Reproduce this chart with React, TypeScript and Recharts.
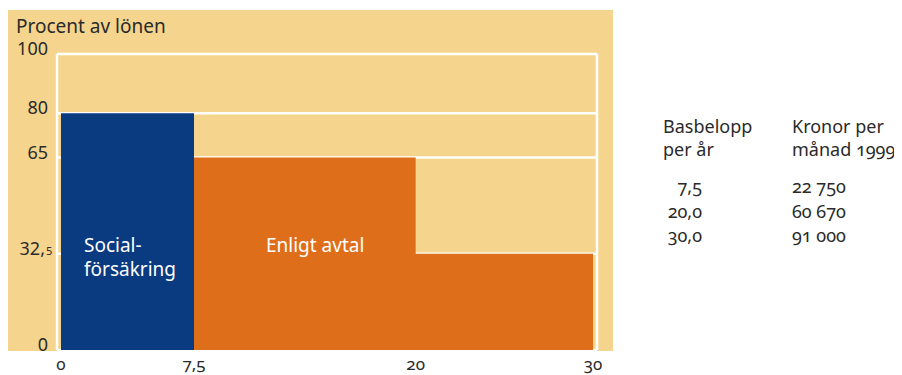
import React from "react";
import { Area, CartesianGrid, ComposedChart, XAxis, YAxis } from "recharts";

// Ersättningsnivåer i procent av lönen, per basbeloppsintervall
const breakpoints = [0, 7.5, 20, 30];
const socialLevel = [80, 80, null, null];
const avtalLevel = [null, 65, 32.5, 32.5];

const yTicks = [0, 32.5, 65, 80, 100];
const yTickLabels = ["0", "32,5", "65", "80", "100"];
const xTicks = [0, 7.5, 20, 30];
const xTickLabels = ["0", "7,5", "20", "30"];

const basbelopp = ["7,5", "20,0", "30,0"];
const kronor = ["22 750", "60 670", "91 000"];

const BEIGE = "#F5D48D";
const BLUE = "#0A3A7F";
const ORANGE = "#DF6E1B";
const TEXT = "#2a2a2a";
const FONT = "'Noto Sans', sans-serif";

const data = breakpoints.map((x, i) => ({
  x,
  social: socialLevel[i],
  avtal: avtalLevel[i],
}));

const YTick = (props: any) => {
  const { x, y, payload } = props;
  const label = yTickLabels[yTicks.indexOf(payload.value)] ?? String(payload.value);
  const comma = label.indexOf(",");
  if (comma < 0) {
    return (
      <text x={x - 1} y={y + 1} textAnchor="end" fontSize={18} fill={TEXT} fontFamily={FONT}>
        {label}
      </text>
    );
  }
  return (
    <g>
      <text x={x - 4} y={y + 1} textAnchor="end" fontSize={18} fill={TEXT} fontFamily={FONT}>
        {label.slice(0, comma + 1)}
      </text>
      <text x={x - 3} y={y + 1} textAnchor="start" fontSize={11} fill={TEXT} fontFamily={FONT}>
        {label.slice(comma + 1)}
      </text>
    </g>
  );
};

const XTick = (props: any) => {
  const { x, y, payload } = props;
  const label = xTickLabels[xTicks.indexOf(payload.value)] ?? String(payload.value);
  return (
    <text
      x={x}
      y={y + 12}
      textAnchor="middle"
      fontSize={17}
      fill={TEXT}
      fontFamily={FONT}
      style={{ fontVariantNumeric: "oldstyle-nums" }}
    >
      {label}
    </text>
  );
};

export default function App() {
  const numStyle = { fontVariantNumeric: "oldstyle-nums" as const };
  return (
    <div style={{ position: "relative", width: 894, height: 367 }}>
      <div
        style={{ position: "absolute", left: 0, top: 2, width: 605, height: 341, background: BEIGE }}
      />
      <div style={{ position: "absolute", left: 0, top: 0 }}>
        <ComposedChart
          width={612}
          height={367}
          data={data}
          margin={{ top: 46, right: 23, bottom: 0, left: 0 }}
        >
          <CartesianGrid
            stroke="#ffffff"
            strokeWidth={2.5}
            verticalCoordinatesGenerator={({ offset }: any) => [
              offset.left,
              offset.left + offset.width,
            ]}
          />
          <XAxis
            dataKey="x"
            type="number"
            domain={[0, 30]}
            ticks={xTicks}
            padding={{ left: 4, right: 4 }}
            axisLine={false}
            tickLine={false}
            height={25}
            tick={<XTick />}
            interval={0}
          />
          <YAxis
            type="number"
            domain={[0, 100]}
            ticks={yTicks}
            axisLine={false}
            tickLine={false}
            width={49}
            tick={<YTick />}
            interval={0}
          />
          <Area
            type="stepAfter"
            dataKey="social"
            stroke="none"
            fill={BLUE}
            fillOpacity={1}
            isAnimationActive={false}
            activeDot={false}
          />
          <Area
            type="stepAfter"
            dataKey="avtal"
            stroke="none"
            fill={ORANGE}
            fillOpacity={1}
            isAnimationActive={false}
            activeDot={false}
          />
        </ComposedChart>
      </div>
      <svg
        width={894}
        height={367}
        style={{ position: "absolute", left: 0, top: 0, pointerEvents: "none" }}
        fontFamily={FONT}
      >
        <text x={8} y={25} fontSize={19} fill={TEXT}>
          Procent av lönen
        </text>
        <text x={76} y={244} fontSize={19} fill="#ffffff">
          Social-
        </text>
        <text x={76} y={268} fontSize={19} fill="#ffffff">
          försäkring
        </text>
        <text x={258} y={244} fontSize={19} fill="#ffffff">
          Enligt avtal
        </text>

        <g fontSize={18} fill={TEXT} style={numStyle}>
          <text x={655} y={125}>Basbelopp</text>
          <text x={655} y={148}>per år</text>
          <text x={784} y={125}>Kronor per</text>
          <text x={784} y={148}>månad 1999</text>
          {basbelopp.map((b, i) => (
            <text key={b} x={694} y={185 + i * 24.5} textAnchor="end">
              {b}
            </text>
          ))}
          {kronor.map((k, i) => (
            <text key={k} x={784} y={185 + i * 24.5}>
              {k}
            </text>
          ))}
        </g>
      </svg>
    </div>
  );
}
